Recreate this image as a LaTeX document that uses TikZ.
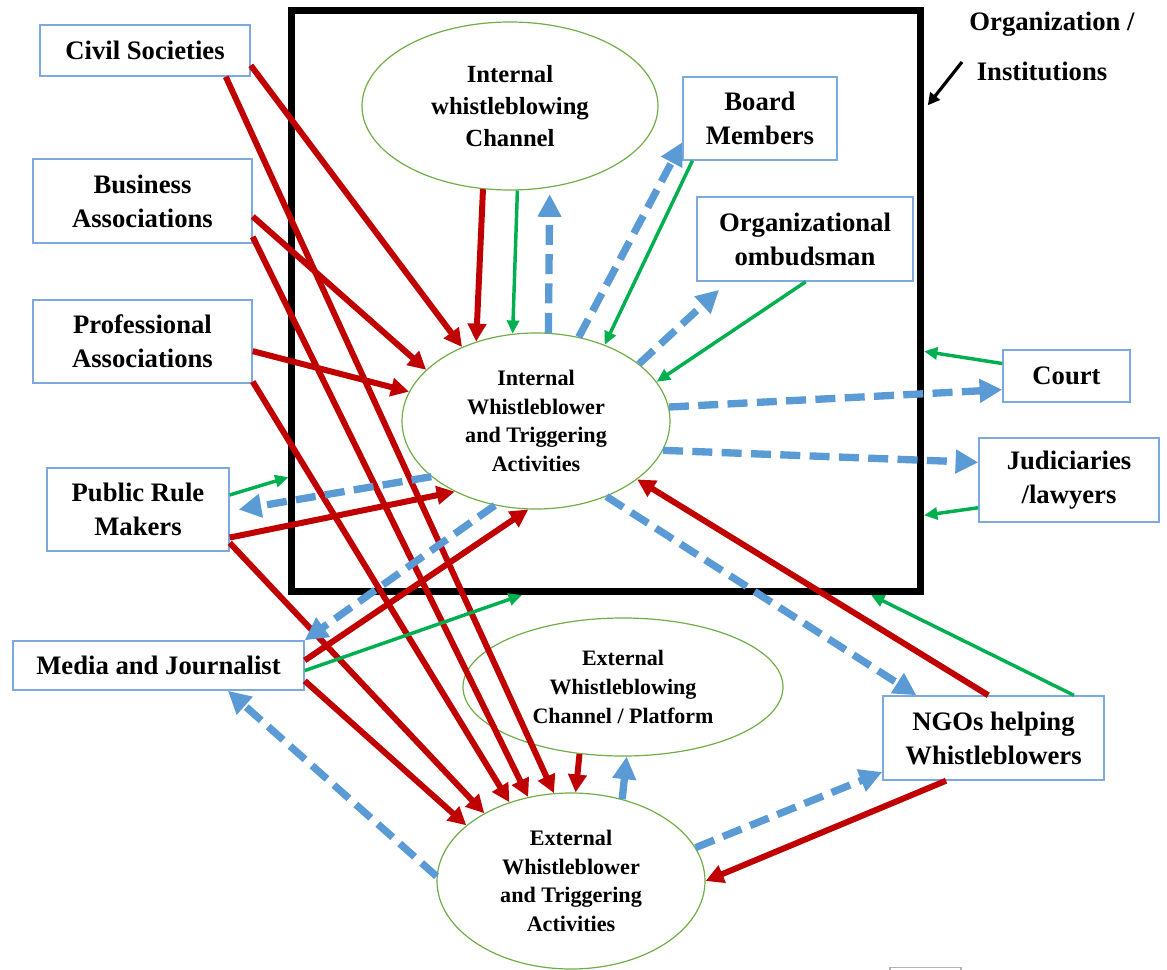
\documentclass[tikz,border=0pt]{standalone}
\usepackage{fontspec}
\setmainfont{Liberation Serif}
\usetikzlibrary{arrows.meta,shapes.geometric}
\definecolor{wbred}{HTML}{C00000}
\definecolor{wbgreen}{HTML}{00B050}
\definecolor{wbblue}{HTML}{5B9BD5}
\definecolor{boxline}{HTML}{7EA9DC}
\definecolor{ellline}{HTML}{70AD47}
\begin{document}
\begin{tikzpicture}[x=0.75pt,y=-0.75pt,
  box/.style={draw=boxline, line width=1.1pt, fill=white, inner sep=0pt, align=center,
    font=\fontsize{20}{25.5}\selectfont\bfseries},
  oval/.style={ellipse, draw=ellline, line width=0.9pt, inner sep=0pt, align=center,
    font=\fontsize{16.6}{21.4}\selectfont\bfseries},
  lbl/.style={inner sep=0pt, font=\fontsize{20}{24}\selectfont\bfseries},
  redarr/.style={color=wbred, line width=4.5pt, -{Triangle[length=13.5pt,width=13.5pt]}},
  grnarr/.style={color=wbgreen, line width=2.6pt, -{Triangle[length=10pt,width=9pt]}},
  bluarr/.style={color=wbblue, line width=5.5pt, dash pattern=on 15pt off 7pt,
    -{Triangle[length=17pt,width=17pt]}},
  blusolid/.style={color=wbblue, line width=5.5pt, -{Triangle[length=17pt,width=17pt]}},
  blkarr/.style={color=black, line width=2.4pt, -{Triangle[length=9pt,width=9pt]}}
]
\useasboundingbox (0,0) rectangle (1167,970);

% organization boundary
\node[draw=black, line width=5.25pt, minimum width=471.4pt, minimum height=435.75pt,
  inner sep=0pt] (org) at (606.25,301) {};

% outside actors
\node[box, minimum width=157.5pt, minimum height=38.25pt] (civ) at (145,50.5) {Civil Societies};
\node[box, minimum width=164.25pt, minimum height=63pt] (bus) at (142.5,201) {Business\\Associations};
\node[box, minimum width=164.25pt, minimum height=62.25pt] (pro) at (142.5,341.5) {Professional\\Associations};
\node[box, minimum width=136.5pt, minimum height=62.25pt] (pub) at (138,509.5) {Public Rule\\Makers};
\node[box, minimum width=218.25pt, minimum height=36.75pt] (med) at (158.5,665.5) {Media and Journalist};
\node[box, minimum width=95.25pt, minimum height=39pt] (crt) at (1066.5,376) {Court};
\node[box, minimum width=135pt, minimum height=63pt] (jud) at (1069,480) {Judiciaries\\/lawyers};
\node[box, minimum width=165.75pt, minimum height=63pt] (ngo) at (993.5,738) {NGOs helping\\Whistleblowers};

% inside the organization
\node[box, minimum width=115.5pt, minimum height=62.25pt] (brd) at (760,118.5) {Board\\Members};
\node[box, minimum width=162pt, minimum height=63pt] (omb) at (805,239) {Organizational\\ombudsman};
\node[oval, minimum width=222pt, minimum height=126pt,
  font=\fontsize{18.5}{23.75}\selectfont\bfseries] (ich) at (510,106) {Internal\\whistleblowing\\Channel};
\node[oval, minimum width=201pt, minimum height=132pt] (iwb) at (536,421)
  {Internal\\Whistleblower\\and Triggering\\Activities};

% external side
\node[oval, minimum width=240pt, minimum height=103.5pt,
  font=\fontsize{16.5}{21.75}\selectfont\bfseries] (ech) at (623,687)
  {External\\Whistleblowing\\Channel / Platform};
\node[oval, minimum width=201pt, minimum height=132pt] (ewb) at (571,881)
  {External\\Whistleblower\\and Triggering\\Activities};

% label of the boundary
\node[lbl] (orgA) at (1052,24) {Organization /};
\node[lbl] (orgB) at (1042,71) {Institutions};
\coordinate (orgarr) at (962,62);
\draw[blkarr, shorten >=4.5pt] (orgarr) -- (org.31.3);

% red: reports into the internal whistleblower
\draw[redarr] (civ.-8.9) -- (iwb.135.8);
\draw[redarr] (bus.-8.7) -- (iwb.155.3);
\draw[redarr] (pro.-5.5) -- (iwb.167.4);
\draw[redarr] (pub.-17.4) -- (iwb.221.6);
\draw[redarr] (med.2.95) -- (iwb.265.7);
\draw[redarr] (ich.252.4) -- (iwb.127);
\draw[redarr] (ngo.97.6) -- (iwb.330);

% red: reports into the external whistleblower
\draw[redarr] (civ.-18.3) -- (ewb.101.4);
\draw[redarr] (bus.-18) -- (ewb.117.1);
\draw[redarr] (pro.-20.6) -- (ewb.128.7);
\draw[redarr] (pub.-20.2) -- (ewb.142.3);
\draw[redarr] (med.-6.1) -- (ewb.152.8);
\draw[redarr] (ech.237.8) -- (ewb.87.2);
\draw[redarr] (ngo.222.6) -- (ewb.0.4);

% green links
\draw[grnarr] (ich.275.3) -- (iwb.105.1);
\draw[grnarr] (brd.212.9) -- (iwb.48.9);
\draw[grnarr] (omb.271) -- (iwb.18.3);
\draw[grnarr] (pub.9) -- (org.209.6);
\draw[grnarr] (med.-2.2) -- (org.254.3);
\draw[grnarr] (crt.169) -- (org.-9.9);
\draw[grnarr] (jud.197.9) -- (org.-34.6);
\draw[grnarr] (ngo.28.8) -- (org.-48.5);

% blue dashed: whistleblowing paths
\draw[bluarr, shorten >=5pt] (iwb.82.2) -- (ich.296.8);
\draw[bluarr] (iwb.63.7) -- (brd.197.6);
\draw[bluarr, shorten >=9pt] (iwb.29.9) -- (omb.209.2);
\draw[bluarr] (iwb.6.4) -- (crt.192.2);
\draw[bluarr] (iwb.-13) -- (jud.169.4);
\draw[bluarr, shorten >=6.75pt] (iwb.208.3) -- (pub.-1.5);
\draw[bluarr] (iwb.244) -- (med.north east);
\draw[bluarr] (iwb.313.5) -- (ngo.151.1);
\draw[bluarr] (ewb.178.3) -- (med.-20.8);
\draw[bluarr] (ewb.15.3) -- (ngo.197.1);
\draw[blusolid] (ewb.58.8) -- (ech.273.5);

% fragment at the lower edge
\draw[black!30, line width=1.2pt] (890,970) -- (890,967.5) -- (961,967.5) -- (961,970);
\end{tikzpicture}
\end{document}
